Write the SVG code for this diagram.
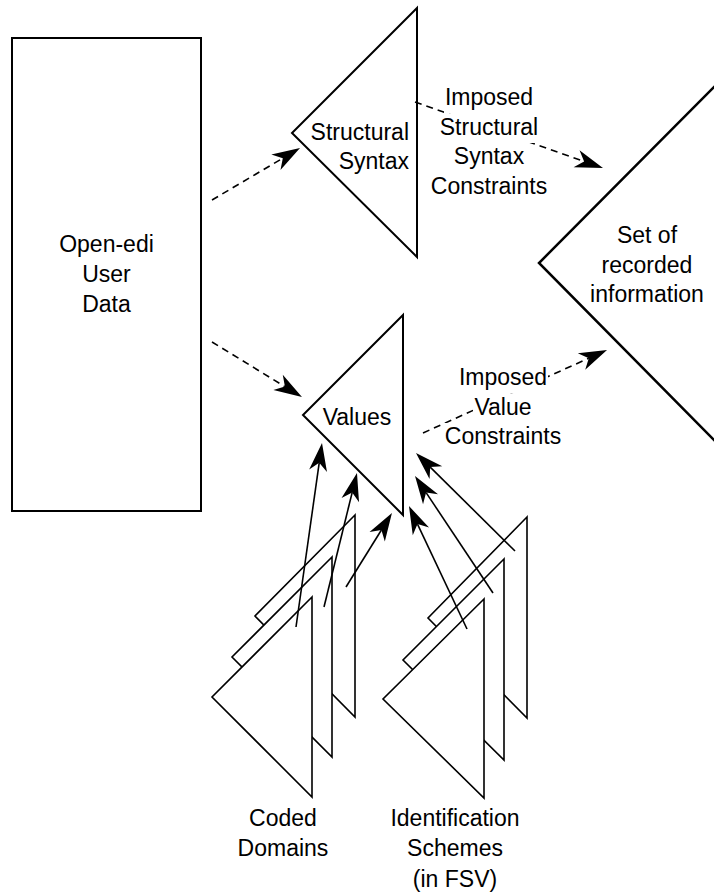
<svg xmlns="http://www.w3.org/2000/svg" width="714" height="895" viewBox="0 0 714 895">
  <style>
    text { font-family: "Liberation Sans", Arial, sans-serif; font-size: 23px; fill: #000; }
    .c { text-anchor: middle; }
    .shape { fill: #fff; stroke: #000; stroke-width: 2; stroke-linejoin: miter; }
    .thin { fill: #fff; stroke: #000; stroke-width: 1.6; }
    .dash { fill: none; stroke: #000; stroke-width: 1.6; stroke-dasharray: 7 5; }
    .solid { fill: none; stroke: #000; stroke-width: 1.6; }
    .bg { fill: #fff; stroke: none; }
  </style>
  <defs>
    <marker id="ah" markerUnits="userSpaceOnUse" viewBox="-9 -10 30 20" refX="0" refY="0" markerWidth="30" markerHeight="20" orient="auto">
      <path d="M20,0 L-8,-9 L0,0 L-8,9 Z" fill="#000"/>
    </marker>
  </defs>
  <rect width="714" height="895" fill="#fff"/>

  <g id="open-edi-user-data">
    <rect class="shape" x="12" y="38" width="189" height="473"/>
    <text class="c" x="106.5" y="252">Open-edi</text>
    <text class="c" x="106.5" y="282">User</text>
    <text class="c" x="106.5" y="312">Data</text>
  </g>

  <g id="structural-syntax">
    <polygon class="shape" points="417,8 292,133 417,257"/>
    <text x="409" y="140" text-anchor="end">Structural</text>
    <text x="409" y="169" text-anchor="end">Syntax</text>
  </g>

  <g id="set-of-recorded-information">
    <polygon class="shape" style="stroke-width:2.5" points="720,81 539,263 720,446"/>
    <text class="c" x="647" y="243">Set of</text>
    <text class="c" x="647" y="273">recorded</text>
    <text class="c" x="647" y="302">information</text>
  </g>

  <g id="values">
    <polygon class="shape" points="403,315 303,415 403,515"/>
    <text class="c" x="357" y="425">Values</text>
  </g>

  <g id="coded-domains">
    <polygon class="thin" points="355,515 255,616 355,717"/>
    <polygon class="thin" points="332,557 232,657 332,757"/>
    <polygon class="thin" points="312,597 212,697 312,797"/>
    <text class="c" x="283" y="826">Coded</text>
    <text class="c" x="283" y="856">Domains</text>
  </g>

  <g id="identification-schemes">
    <polygon class="thin" points="527,517 428,618 527,718"/>
    <polygon class="thin" points="504,559 403,660 504,760"/>
    <polygon class="thin" points="484,599 383,699 484,798"/>
    <text class="c" x="455" y="826">Identification</text>
    <text class="c" x="455" y="856">Schemes</text>
    <text class="c" x="455" y="887">(in FSV)</text>
  </g>

  <g id="connectors">
    <line class="dash" x1="212" y1="200" x2="282.8" y2="158.2" marker-end="url(#ah)"/>
    <line class="dash" x1="212" y1="342" x2="284.9" y2="386.6" marker-end="url(#ah)"/>
    <line class="dash" x1="415" y1="102" x2="584.1" y2="161.4" marker-end="url(#ah)"/>
    <line class="dash" x1="423" y1="433" x2="588.8" y2="358.2" marker-end="url(#ah)"/>

    <line class="solid" x1="296" y1="627" x2="319.2" y2="462.8" marker-end="url(#ah)"/>
    <line class="solid" x1="324" y1="607" x2="352.2" y2="492.4" marker-end="url(#ah)"/>
    <line class="solid" x1="346" y1="587" x2="381.4" y2="530" marker-end="url(#ah)"/>
    <line class="solid" x1="467" y1="629" x2="417.5" y2="524.1" marker-end="url(#ah)"/>
    <line class="solid" x1="493" y1="593" x2="426.1" y2="492.6" marker-end="url(#ah)"/>
    <line class="solid" x1="515" y1="551" x2="430.2" y2="467.1" marker-end="url(#ah)"/>

    <g id="label-imposed-structural">
      <rect class="bg" x="444" y="84" width="90" height="29.5"/>
      <rect class="bg" x="439" y="113.5" width="100" height="29.5"/>
      <rect class="bg" x="453" y="143" width="72" height="29.5"/>
      <rect class="bg" x="430" y="172.5" width="118" height="29.5"/>
      <text class="c" x="489" y="105">Imposed</text>
      <text class="c" x="489" y="134.5">Structural</text>
      <text class="c" x="489" y="164">Syntax</text>
      <text class="c" x="489" y="193.5">Constraints</text>
    </g>
    <g id="label-imposed-value">
      <rect class="bg" x="458" y="364" width="90" height="29.5"/>
      <rect class="bg" x="473" y="393.5" width="61" height="29.5"/>
      <rect class="bg" x="444" y="423" width="118" height="29.5"/>
      <text class="c" x="503" y="385">Imposed</text>
      <text class="c" x="503" y="414.5">Value</text>
      <text class="c" x="503" y="444">Constraints</text>
    </g>
  </g>
</svg>
